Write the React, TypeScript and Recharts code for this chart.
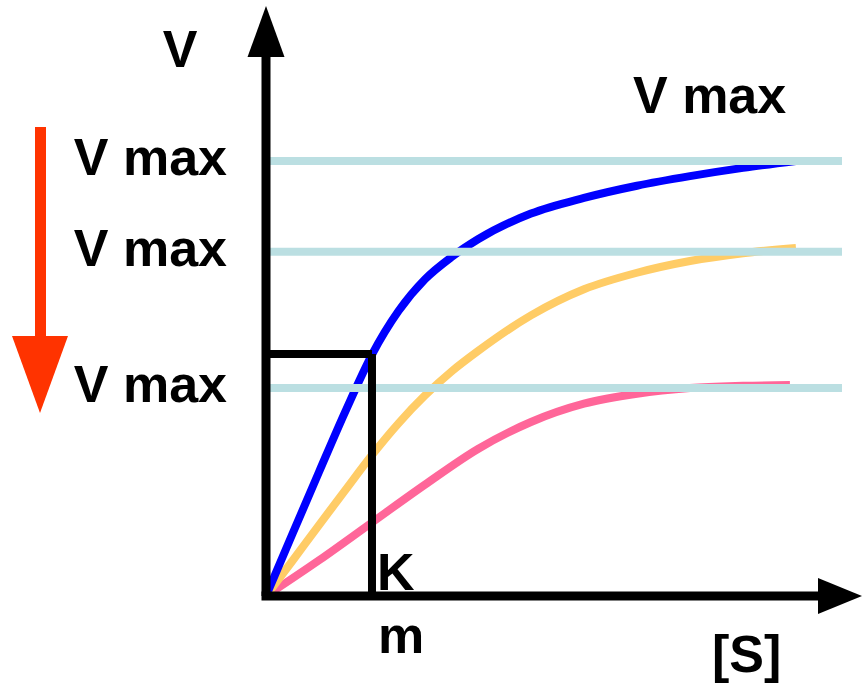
import React from 'react';
import {
  LineChart,
  Line,
  XAxis,
  YAxis,
  ReferenceLine,
  ReferenceDot,
} from 'recharts';

// [S] in units of Km, V in units of the top Vmax
const blueS = [0, 0.25, 0.5, 0.75, 1, 1.25, 1.5, 1.75, 2, 2.5, 3, 3.5, 4, 4.5, 5];
const blueV = [0, 0.143, 0.285, 0.425, 0.555, 0.655, 0.728, 0.779, 0.82, 0.879, 0.915, 0.943, 0.965, 0.984, 1.0];

const orangeS = [0, 0.25, 0.5, 0.75, 1, 1.25, 1.5, 1.75, 2, 2.5, 3, 3.5, 4, 4.5, 5];
const orangeV = [0, 0.081, 0.163, 0.244, 0.324, 0.397, 0.461, 0.516, 0.563, 0.645, 0.705, 0.743, 0.77, 0.788, 0.8];

const pinkS = [0, 0.5, 1, 1.5, 2, 2.5, 3, 3.5, 4, 4.5, 4.943];
const pinkV = [0, 0.082, 0.169, 0.256, 0.338, 0.4, 0.442, 0.465, 0.478, 0.483, 0.485];

const vmaxLevels = [1.0, 0.791, 0.478];
const vmaxLabels = ['V max', 'V max', 'V max'];
const kmValue = 1.0;
const kmHalfV = 0.556;
const guideEndS = 5.434;

// axis ends (inside the arrowheads) and arrow tips
const S_MAX = 5.321;
const V_MAX = 1.278;
const S_TIP = 5.623;
const V_TIP = 1.356;

const zip = (s: number[], v: number[]) => s.map((x, i) => ({ x, y: v[i] }));

const FONT = '"Liberation Sans", Arial, sans-serif';
const GUIDE = '#BBDFE2';

const YTick = ({ x, y, payload }: any) => {
  const i = vmaxLevels.indexOf(payload.value);
  return (
    <text
      x={x - 39}
      y={y + 14}
      textAnchor="end"
      fontFamily={FONT}
      fontWeight="bold"
      fontSize={52}
      fill="#000"
    >
      {vmaxLabels[i] ?? 'V max'}
    </text>
  );
};

const XTick = ({ x, y }: any) => (
  <g fontFamily={FONT} fontWeight="bold" fontSize={52} fill="#000">
    <text x={x + 5} y={y - 6}>K</text>
    <text x={x + 6} y={y + 57}>m</text>
  </g>
);

const UpArrow = ({ cx, cy }: any) => (
  <polygon points={`${cx},${cy} ${cx - 18.5},${cy + 51} ${cx + 18.5},${cy + 51}`} fill="#000" />
);

const RightArrow = ({ cx, cy }: any) => (
  <polygon points={`${cx},${cy} ${cx - 44},${cy - 18} ${cx - 44},${cy + 18}`} fill="#000" />
);

export default function App() {
  return (
    <div style={{ position: 'absolute', left: 0, top: 0, width: 862, height: 684, background: '#fff' }}>
      <LineChart
        width={862}
        height={684}
        margin={{ top: 40, right: 32, bottom: 78, left: 256 }}
      >
        <XAxis
          type="number"
          dataKey="x"
          domain={[0, S_MAX]}
          allowDataOverflow
          ticks={[kmValue]}
          interval={0}
          height={10}
          tickSize={0}
          tickMargin={0}
          tickLine={false}
          axisLine={{ stroke: '#000', strokeWidth: 9, strokeLinecap: 'square' }}
          tick={<XTick />}
        />
        <YAxis
          type="number"
          dataKey="y"
          domain={[0, V_MAX]}
          allowDataOverflow
          ticks={vmaxLevels}
          interval={0}
          width={10}
          tickSize={0}
          tickMargin={0}
          tickLine={false}
          axisLine={{ stroke: '#000', strokeWidth: 9 }}
          tick={<YTick />}
        />
        <Line
          data={zip(pinkS, pinkV)}
          dataKey="y"
          type="monotone"
          stroke="#FF6699"
          strokeWidth={8}
          dot={false}
          isAnimationActive={false}
        />
        <Line
          data={zip(orangeS, orangeV)}
          dataKey="y"
          type="monotone"
          stroke="#FFCC66"
          strokeWidth={8}
          dot={false}
          isAnimationActive={false}
        />
        <Line
          data={zip(blueS, blueV)}
          dataKey="y"
          type="monotone"
          stroke="#0000FF"
          strokeWidth={8}
          dot={false}
          isAnimationActive={false}
        />
        {vmaxLevels.map((v) => (
          <ReferenceLine
            key={v}
            segment={[{ x: 0, y: v }, { x: guideEndS, y: v }]}
            stroke={GUIDE}
            strokeWidth={8}
            ifOverflow="visible"
          />
        ))}
        <ReferenceLine
          segment={[{ x: 0, y: kmHalfV }, { x: kmValue, y: kmHalfV }]}
          stroke="#000"
          strokeWidth={8}
        />
        <ReferenceLine
          segment={[{ x: kmValue, y: kmHalfV }, { x: kmValue, y: 0 }]}
          stroke="#000"
          strokeWidth={8}
        />
        <ReferenceDot x={0} y={V_TIP} ifOverflow="visible" shape={<UpArrow />} />
        <ReferenceDot x={S_TIP} y={0} ifOverflow="visible" shape={<RightArrow />} />
      </LineChart>
      <svg
        width={862}
        height={684}
        style={{ position: 'absolute', left: 0, top: 0, pointerEvents: 'none' }}
      >
        <rect x={35} y={127} width={11} height={212} fill="#FF3300" />
        <polygon points="12,336 68,336 40,413" fill="#FF3300" />
        <g fontFamily={FONT} fontWeight="bold" fontSize={52} fill="#000">
          <text x={180} y={67} textAnchor="middle">V</text>
          <text x={633} y={113}>V max</text>
          <text x={712} y={672}>[S]</text>
        </g>
      </svg>
    </div>
  );
}
